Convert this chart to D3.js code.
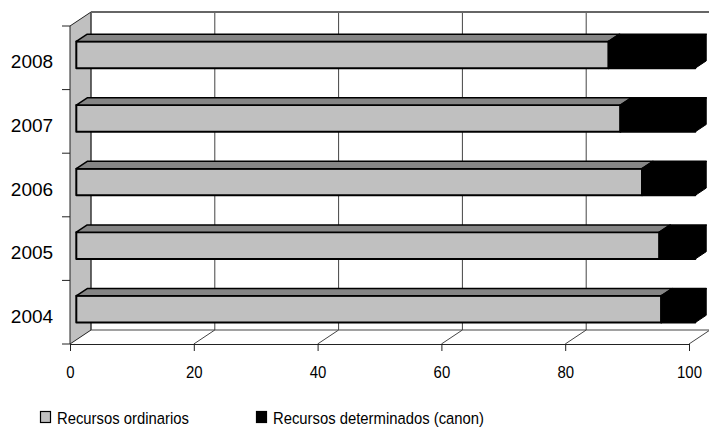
<!DOCTYPE html>
<html>
<head>
<meta charset="utf-8">
<script src="https://cdn.jsdelivr.net/npm/d3@7"></script>
<style>
  body { margin: 0; background: #fff; }
  text { font-family: "Liberation Sans", Arial, sans-serif; fill: #000; }
</style>
</head>
<body>
<div id="chart-area"></div>
<script>
const years = ["2008", "2007", "2006", "2005", "2004"];
const ordinarios = [86.0, 87.9, 91.4, 94.2, 94.5];
const canon = [14.0, 12.1, 8.6, 5.8, 5.5];
const xTicks = [0, 20, 40, 60, 80, 100];
const seriesNames = ["Recursos ordinarios", "Recursos determinados (canon)"];

const W = 709, H = 439;
// depth of the 3d box (screen offset of back plane)
const DX = 21, DY = -14;
const fFront = 0.3, fBack = 0.82;

const svg = d3.select("#chart-area").append("svg")
    .attr("width", W)
    .attr("height", H);

const x = d3.scaleLinear().domain([0, 100]).range([70, 689]);
const y = d3.scaleBand().domain(years).range([26, 344]);

const pt = (px, py, f) => [px + DX * f, py + DY * f];
const poly = (pts) => pts.map((p) => p.join(",")).join(" ");

// side wall
svg.append("polygon")
    .attr("points", poly([pt(70, 26, 0), pt(70, 26, 1), pt(70, 344, 1), pt(70, 344, 0)]))
    .attr("fill", "#c0c0c0")
    .attr("stroke", "#222")
    .attr("stroke-width", 1);

// back wall gridlines
const grid = svg.append("g");
xTicks.forEach((t) => {
  const top = pt(x(t), 26, 1), bot = pt(x(t), 344, 1);
  if (t > 0 && t < 100) {
    grid.append("line")
        .attr("x1", top[0]).attr("y1", top[1])
        .attr("x2", bot[0]).attr("y2", bot[1])
        .attr("stroke", "#444").attr("stroke-width", 1);
  }
  // floor lines
  if (t > 0) {
    const a = pt(x(t), 344, 0), b = pt(x(t), 344, 1);
    grid.append("line")
        .attr("x1", a[0]).attr("y1", a[1])
        .attr("x2", b[0]).attr("y2", b[1])
        .attr("stroke", "#444").attr("stroke-width", 1);
  }
});
// back wall left edge and top edge, floor back edge
const bl = pt(70, 26, 1), bb = pt(70, 344, 1), br = pt(x(100), 344, 1);
grid.append("line").attr("x1", bl[0]).attr("y1", bl[1]).attr("x2", bb[0]).attr("y2", bb[1])
    .attr("stroke", "#444").attr("stroke-width", 1);
grid.append("line").attr("x1", bl[0]).attr("y1", bl[1]).attr("x2", W).attr("y2", bl[1])
    .attr("stroke", "#666").attr("stroke-width", 2);
grid.append("line").attr("x1", bb[0]).attr("y1", bb[1]).attr("x2", br[0]).attr("y2", br[1])
    .attr("stroke", "#444").attr("stroke-width", 1);

// x axis (front floor edge)
const xAxisGroup = svg.append("g")
    .attr("transform", "translate(0,344)")
    .call(d3.axisBottom(x).tickValues(xTicks).tickSize(7).tickSizeOuter(0));
xAxisGroup.select(".domain").attr("stroke", "#222");
xAxisGroup.selectAll(".tick line").attr("stroke", "#222");
xAxisGroup.selectAll("text")
    .attr("y", null)
    .attr("dy", null)
    .attr("transform", "translate(0,34) scale(0.88,1)")
    .attr("font-size", 17)
    .attr("font-family", "Liberation Sans, Arial, sans-serif")
    .attr("fill", "#000");

// y ticks at band boundaries
const yBounds = years.map((d) => y(d)).concat([y.range()[1]]);
svg.append("g").selectAll("line").data(yBounds).enter().append("line")
    .attr("x1", 62).attr("x2", 70)
    .attr("y1", (d) => d).attr("y2", (d) => d)
    .attr("stroke", "#222");

// year labels
svg.append("g").selectAll("text").data(years).enter().append("text")
    .attr("x", 32)
    .attr("y", (d) => y(d) + y.bandwidth() / 2 + 4)
    .attr("dominant-baseline", "central")
    .attr("text-anchor", "middle")
    .attr("font-size", 19)
    .text((d) => d);

// bars
const barH = y.bandwidth() * 0.42;
const bars = svg.append("g");
years.forEach((yr, i) => {
  const y0 = y(yr) + y.bandwidth() / 2 + 1.2 - barH / 2;
  const y1 = y0 + barH;
  const segs = [
    {a: 0, b: ordinarios[i], front: "#c0c0c0", top: "#858585"},
    {a: ordinarios[i], b: ordinarios[i] + canon[i], front: "#000", top: "#000"}
  ];
  segs.forEach((s, k) => {
    const xa = x(s.a), xb = x(s.b);
    // front face
    bars.append("polygon")
        .attr("points", poly([pt(xa, y0, fFront), pt(xb, y0, fFront), pt(xb, y1, fFront), pt(xa, y1, fFront)]))
        .attr("fill", s.front).attr("stroke", "#000").attr("stroke-width", 2)
        .attr("stroke-linejoin", "round");
    // top face
    bars.append("polygon")
        .attr("points", poly([pt(xa, y0, fFront), pt(xb, y0, fFront), pt(xb, y0, fBack), pt(xa, y0, fBack)]))
        .attr("fill", s.top).attr("stroke", "#000").attr("stroke-width", 1.5)
        .attr("stroke-linejoin", "round");
    if (k === segs.length - 1) {
      bars.append("polygon")
          .attr("points", poly([pt(xb, y0, fFront), pt(xb, y0, fBack), pt(xb, y1, fBack), pt(xb, y1, fFront)]))
          .attr("fill", "#000").attr("stroke", "#000").attr("stroke-width", 1);
    }
  });
});

// legend
const legendColors = ["#c0c0c0", "#000"];
const legendX = [40, 256];
const legend = svg.append("g").selectAll("g").data(seriesNames).enter().append("g")
    .attr("transform", (d, i) => "translate(" + legendX[i] + ",411)");
legend.append("rect")
    .attr("x", 0.5).attr("y", 0.5)
    .attr("width", 10).attr("height", 11)
    .attr("fill", (d, i) => legendColors[i])
    .attr("stroke", "#000").attr("stroke-width", 1.2);
legend.append("text")
    .attr("transform", "translate(17,12.5) scale(0.91,1)")
    .attr("font-size", 16.3)
    .text((d) => d);
</script>
</body>
</html>
